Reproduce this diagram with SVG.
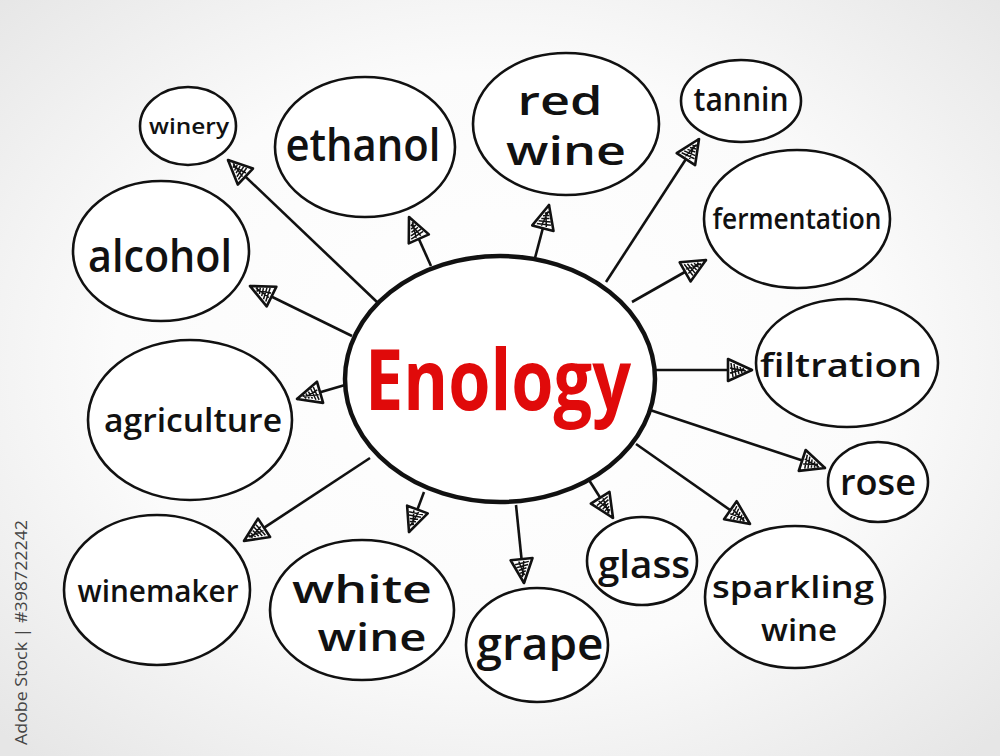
<svg xmlns="http://www.w3.org/2000/svg" width="1000" height="756" viewBox="0 0 1000 756">
<defs>
<radialGradient id="bg" cx="50%" cy="48%" r="70%">
<stop offset="0" stop-color="#ffffff"/>
<stop offset="0.55" stop-color="#fbfbfb"/>
<stop offset="1" stop-color="#e6e6e6"/>
</radialGradient>
<marker id="arr" viewBox="0 0 28 28" refX="26" refY="14" markerWidth="28" markerHeight="28" markerUnits="userSpaceOnUse" orient="auto">
<path d="M2,3 L26,14 L2,25 Z" fill="#ffffff" stroke="#111" stroke-width="2.6" stroke-linejoin="round"/>
<path d="M5,7 L7,21 M8,8 L10,20 M11,10 L13,18 M14,11 L16,17 M17,12 L19,16 M4,12 L20,15 M4,17 L18,13" fill="none" stroke="#111" stroke-width="1.5"/>
</marker>
<style>
.n{fill:#ffffff;stroke:#111;stroke-width:2.6}
.c{fill:#ffffff;stroke:#111;stroke-width:4.5}
.t{font-family:"Open Sans","Liberation Sans",sans-serif;font-weight:600;fill:#111;text-anchor:middle}
.e{font-family:"Open Sans","Liberation Sans",sans-serif;font-weight:700;fill:#e00a0a;text-anchor:middle}
.ln{fill:none;stroke:#111;stroke-width:2.6;marker-end:url(#arr)}
.wm{font-family:"Open Sans","Liberation Sans",sans-serif;font-size:16px;fill:#444}
</style>
</defs>
<rect width="1000" height="756" fill="url(#bg)"/>
<text class="wm" transform="translate(27,745) rotate(-90)" textLength="225" lengthAdjust="spacingAndGlyphs">Adobe Stock | #398722242</text>

<g id="connectors">
<line class="ln" x1="377" y1="302" x2="228" y2="160"/>
<line class="ln" x1="431" y1="266" x2="409" y2="217"/>
<line class="ln" x1="535" y1="258" x2="549" y2="205"/>
<line class="ln" x1="606" y1="282" x2="699" y2="139"/>
<line class="ln" x1="632" y1="302" x2="706" y2="260"/>
<line class="ln" x1="352" y1="336" x2="250" y2="286"/>
<line class="ln" x1="656" y1="370" x2="752" y2="370"/>
<line class="ln" x1="345" y1="385" x2="297" y2="399"/>
<line class="ln" x1="650" y1="410" x2="825" y2="468"/>
<line class="ln" x1="370" y1="458" x2="244" y2="541"/>
<line class="ln" x1="424" y1="492" x2="409" y2="532"/>
<line class="ln" x1="516" y1="505" x2="524" y2="583"/>
<line class="ln" x1="589" y1="480" x2="613" y2="518"/>
<line class="ln" x1="636" y1="444" x2="750" y2="524"/>
</g>

<g id="center">
<ellipse class="c" cx="500" cy="379" rx="155" ry="123"/>
<text class="e" x="498" y="410" font-size="84" textLength="266" lengthAdjust="spacingAndGlyphs">Enology</text>
</g>

<g id="winery">
<ellipse class="n" cx="188" cy="126" rx="48" ry="39"/>
<text class="t" x="189" y="134" font-size="22" textLength="80" lengthAdjust="spacingAndGlyphs">winery</text>
</g>
<g id="ethanol">
<ellipse class="n" cx="365" cy="147" rx="90" ry="70"/>
<text class="t" x="363" y="161" font-size="46" textLength="155" lengthAdjust="spacingAndGlyphs">ethanol</text>
</g>
<g id="red-wine">
<ellipse class="n" cx="566" cy="124" rx="93" ry="71"/>
<text class="t" x="560" y="115" font-size="40" textLength="85" lengthAdjust="spacingAndGlyphs">red</text>
<text class="t" x="566" y="165" font-size="40" textLength="120" lengthAdjust="spacingAndGlyphs">wine</text>
</g>
<g id="tannin">
<ellipse class="n" cx="741" cy="101" rx="60" ry="41"/>
<text class="t" x="741" y="111" font-size="32" textLength="95" lengthAdjust="spacingAndGlyphs">tannin</text>
</g>
<g id="fermentation">
<ellipse class="n" cx="797" cy="219" rx="93" ry="69"/>
<text class="t" x="797" y="229" font-size="28" textLength="169" lengthAdjust="spacingAndGlyphs">fermentation</text>
</g>
<g id="alcohol">
<ellipse class="n" cx="161" cy="251" rx="88" ry="70"/>
<text class="t" x="160" y="272" font-size="46" textLength="144" lengthAdjust="spacingAndGlyphs">alcohol</text>
</g>
<g id="filtration">
<ellipse class="n" cx="847" cy="363" rx="91" ry="64"/>
<text class="t" x="841" y="377" font-size="32" textLength="162" lengthAdjust="spacingAndGlyphs">filtration</text>
</g>
<g id="agriculture">
<ellipse class="n" cx="190" cy="420" rx="102" ry="80"/>
<text class="t" x="193" y="432" font-size="32" textLength="178" lengthAdjust="spacingAndGlyphs">agriculture</text>
</g>
<g id="rose">
<ellipse class="n" cx="878" cy="482" rx="50" ry="40"/>
<text class="t" x="878" y="495" font-size="36" textLength="76" lengthAdjust="spacingAndGlyphs">rose</text>
</g>
<g id="winemaker">
<ellipse class="n" cx="157" cy="590" rx="93" ry="75"/>
<text class="t" x="158" y="602" font-size="30" textLength="161" lengthAdjust="spacingAndGlyphs">winemaker</text>
</g>
<g id="white-wine">
<ellipse class="n" cx="362" cy="610" rx="92" ry="70"/>
<text class="t" x="362" y="603" font-size="38" textLength="140" lengthAdjust="spacingAndGlyphs">white</text>
<text class="t" x="372" y="651" font-size="38" textLength="109" lengthAdjust="spacingAndGlyphs">wine</text>
</g>
<g id="grape">
<ellipse class="n" cx="537" cy="645" rx="71" ry="57"/>
<text class="t" x="540" y="660" font-size="46" textLength="127" lengthAdjust="spacingAndGlyphs">grape</text>
</g>
<g id="glass">
<ellipse class="n" cx="642" cy="561" rx="55" ry="44"/>
<text class="t" x="644" y="578" font-size="38" textLength="92" lengthAdjust="spacingAndGlyphs">glass</text>
</g>
<g id="sparkling-wine">
<ellipse class="n" cx="795" cy="597" rx="90" ry="71"/>
<text class="t" x="793" y="598" font-size="31" textLength="162" lengthAdjust="spacingAndGlyphs">sparkling</text>
<text class="t" x="799" y="641" font-size="31" textLength="76" lengthAdjust="spacingAndGlyphs">wine</text>
</g>
</svg>
